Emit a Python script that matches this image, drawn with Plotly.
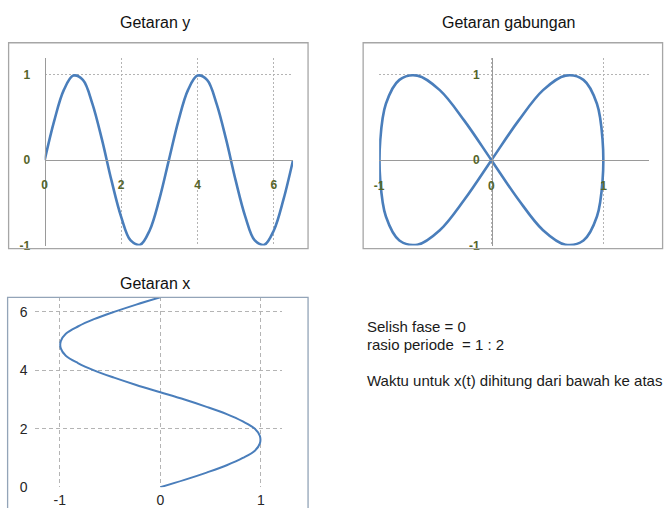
import plotly.graph_objects as go

# Sampled time values and the two oscillations (x: one period, y: two periods)
t_vals = [0.00, 0.25, 0.50, 0.75, 1.00, 1.25, 1.50, 1.75, 2.00, 2.25, 2.50, 2.75, 3.00,
          3.25, 3.50, 3.75, 4.00, 4.25, 4.50, 4.75, 5.00, 5.25, 5.50, 5.75, 6.00, 6.25, 6.50]
x_vals = [0.00, 0.24, 0.46, 0.66, 0.82, 0.94, 0.99, 0.99, 0.94, 0.82, 0.66, 0.46, 0.24,
          0.00, -0.24, -0.46, -0.66, -0.82, -0.94, -0.99, -0.99, -0.94, -0.82, -0.66, -0.46, -0.24, 0.00]
y_vals = [0.00, 0.46, 0.82, 0.99, 0.94, 0.66, 0.24, -0.24, -0.66, -0.94, -0.99, -0.82, -0.46,
          0.00, 0.46, 0.82, 0.99, 0.94, 0.66, 0.24, -0.24, -0.66, -0.94, -0.99, -0.82, -0.46, 0.00]

ticks_time = [0, 2, 4, 6]
ticks_time_text = ["0", "2", "4", "6"]
ticks_unit = [-1, 0, 1]
ticks_unit_text = ["-1", "0", "1"]

W, H = 667, 508
LINE = "#4a7ebb"
GRID = "#b4b4b4"
AXIS = "#9a9a9a"
OLIVE = "#56652a"

# Screen placement: paper fraction for a target on-screen pixel
SX, OX = 0.991, 5.4
SY, OY = 0.984, -1.0


def px(x):
    return ((x - OX) / SX) / W


def py(y):
    return 1 - ((y - OY) / SY) / H


fig = go.Figure()

# Getaran y : y(t)
fig.add_trace(go.Scatter(x=t_vals, y=y_vals, mode="lines", xaxis="x", yaxis="y",
                         line=dict(color=LINE, width=2.6, shape="spline")))
# Getaran gabungan : (x, y)
fig.add_trace(go.Scatter(x=x_vals, y=y_vals, mode="lines", xaxis="x2", yaxis="y2",
                         line=dict(color=LINE, width=2.6, shape="spline")))
# Getaran x : x(t), time running upward
fig.add_trace(go.Scatter(x=x_vals, y=t_vals, mode="lines", xaxis="x3", yaxis="y3",
                         line=dict(color=LINE, width=2, shape="spline")))

top_font = dict(family="Liberation Sans", size=12, color=OLIVE, weight="bold")
bot_font = dict(family="Liberation Sans", size=14, color="#262626")

common_top = dict(showgrid=True, gridcolor=GRID, griddash="2px,2px", gridwidth=1,
                  zeroline=False, showline=True, linecolor=AXIS, linewidth=1,
                  ticks="", tickfont=top_font, fixedrange=True)
common_bot = dict(showgrid=True, gridcolor=GRID, griddash="4px,3px", gridwidth=1,
                  zeroline=False, showline=False, ticks="", tickfont=bot_font,
                  fixedrange=True)

fig.update_layout(
    width=W, height=H,
    margin=dict(l=0, r=0, t=0, b=0),
    paper_bgcolor="white", plot_bgcolor="white",
    showlegend=False,
    xaxis=dict(domain=[px(45), px(293)], range=[0, 6.5],
               tickvals=ticks_time, ticktext=ticks_time_text,
               anchor="free", position=py(160), ticklabelstandoff=14, **common_top),
    yaxis=dict(domain=[py(246), py(57)], range=[-1, 1.2],
               tickvals=ticks_unit, ticktext=ticks_unit_text,
               anchor="free", position=px(45), ticklabelstandoff=12, **common_top),
    xaxis2=dict(domain=[px(379), px(648)], range=[-1, 1.4],
                tickvals=ticks_unit, ticktext=ticks_unit_text,
                anchor="free", position=py(160), ticklabelstandoff=15, **common_top),
    yaxis2=dict(domain=[py(246), py(57)], range=[-1, 1.2],
                tickvals=ticks_unit, ticktext=ticks_unit_text,
                anchor="free", position=px(491.7), ticklabelstandoff=10, **common_top),
    xaxis3=dict(domain=[px(35), px(282)], range=[-1.25, 1.21],
                tickvals=ticks_unit, ticktext=ticks_unit_text,
                anchor="y3", ticklabelstandoff=3, **common_bot),
    yaxis3=dict(domain=[py(489), py(298)], range=[0, 6.5],
                tickvals=ticks_time, ticktext=ticks_time_text,
                anchor="x3", ticklabelstandoff=6, **common_bot),
)

# Chart frames
frames = [((9, 42, 308, 249), "#a6a6a6"),
          ((363, 42, 662, 249), "#a6a6a6"),
          ((8, 298, 308, 515), "#93a4b8")]
for (x0, y0, x1, y1), col in frames:
    fig.add_shape(type="rect", xref="paper", yref="paper",
                  x0=px(x0), y0=py(y1), x1=px(x1), y1=py(y0),
                  line=dict(color=col, width=1.3), fillcolor="rgba(0,0,0,0)")

title_font = dict(family="Liberation Sans", size=16, color="#111111")
titles = [("Getaran y", 155, 22), ("Getaran gabungan", 508, 22), ("Getaran x", 155, 284)]
for txt, cx, cy in titles:
    fig.add_annotation(text=txt, x=px(cx), y=py(cy), xref="paper", yref="paper",
                       showarrow=False, xanchor="center", yanchor="middle", font=title_font)

note_font = dict(family="Liberation Sans", size=15, color="#1a1a1a")
notes = [("Selish fase = 0", 327), ("rasio periode  = 1 : 2", 345),
         ("Waktu untuk x(t) dihitung dari bawah ke atas", 382)]
for txt, cy in notes:
    fig.add_annotation(text=txt, x=px(365), y=py(cy), xref="paper", yref="paper",
                       showarrow=False, xanchor="left", yanchor="middle", font=note_font)

fig.write_html("out.html", post_script="document.body.style.margin='0';")
